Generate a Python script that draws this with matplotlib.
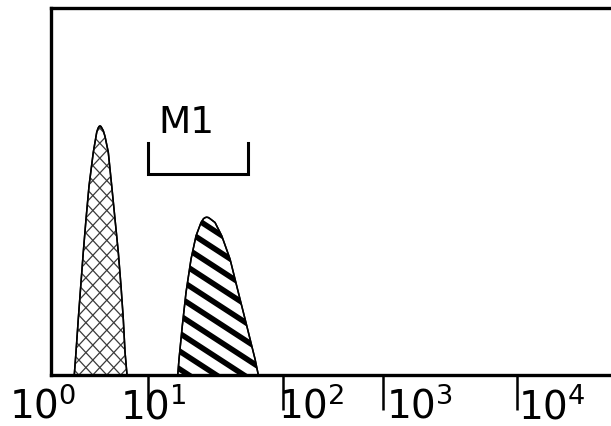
import numpy as np
import matplotlib
matplotlib.use('Agg')
import matplotlib.pyplot as plt
from matplotlib.collections import LineCollection

# channel (0-1024, log amplified) and event counts for each histogram outline
ctrl_chan = [41.9, 45.0, 49.1, 53.5, 58.1, 63.0, 68.4, 76.1, 82.3, 84.6, 86.4, 88.2,
             90.0, 91.8, 94.1, 97.2, 103.1, 109.3, 115.2, 121.1, 126.0, 130.1, 133.2, 136.8]
ctrl_count = [0, 12.6, 30.6, 48.6, 67.2, 85.2, 103.3, 121.8, 132.8, 134.9, 135.9, 136.2,
              135.9, 134.9, 133.6, 130.5, 121.8, 103.3, 85.2, 67.2, 48.6, 30.6, 12.6, 0]

stain_chan = [228.1, 230.4, 236.3, 243.0, 252.0, 261.0, 270.0, 274.5, 277.5, 280.3,
              283.3, 286.2, 295.2, 307.3, 322.2, 337.1, 352.3, 367.2, 373.1]
stain_count = [0, 8.7, 26.9, 45.2, 63.4, 76.1, 83.4, 85.5, 86.1, 86.3,
               86.1, 85.5, 83.4, 76.1, 63.4, 45.2, 26.9, 8.7, 0]

# decade ticks and where their labels sit
tick_chan = [175, 418, 598, 839]
label_chan = [-76, 125, 408, 602, 841]
tick_labels = [r'$10^{0}$', r'$10^{1}$', r'$10^{2}$', r'$10^{3}$', r'$10^{4}$']

# M1 gate
m1_chan = [175, 355]
m1_count = [110, 127]
m1_text_pos = (193, 132.8)

FIG_W, FIG_H, DPI = 6.11, 4.27, 100
AX_POS = [51 / 611, 51 / 427, 569 / 611, 367.5 / 427]


def add_hatch(ax, patch, angle, spacing, lw, color):
    """Draw parallel lines (angle in degrees, spacing in pixels) clipped to patch."""
    w_px = AX_POS[2] * FIG_W * DPI
    h_px = AX_POS[3] * FIG_H * DPI
    t = np.radians(angle)
    d = np.array([np.cos(t), np.sin(t)])
    n = np.array([-np.sin(t), np.cos(t)])
    big = 2000
    segs = []
    for k in range(-int(big / spacing), int(big / spacing) + 1):
        c = n * k * spacing
        p0 = c - d * big
        p1 = c + d * big
        segs.append([(p0[0] / w_px, p0[1] / h_px), (p1[0] / w_px, p1[1] / h_px)])
    lc = LineCollection(segs, colors=color, linewidths=lw, transform=ax.transAxes)
    ax.add_collection(lc)
    lc.set_clip_path(patch)


plt.rcParams['font.family'] = 'DejaVu Sans'
plt.rcParams['mathtext.fontset'] = 'dejavusans'

fig = plt.figure(figsize=(FIG_W, FIG_H), dpi=DPI)
ax = fig.add_axes(AX_POS)

# control peak: cross hatched
ctrl = ax.fill(ctrl_chan, ctrl_count, facecolor='white', edgecolor='black', lw=1.1, zorder=2)[0]
add_hatch(ax, ctrl, 47, 10.2, 0.9, '#3a3a3a')
add_hatch(ax, ctrl, -47, 10.2, 0.9, '#3a3a3a')
ax.fill(ctrl_chan, ctrl_count, facecolor='none', edgecolor='black', lw=1.1, zorder=3)

# stained peak: bold diagonal stripes
stain = ax.fill(stain_chan, stain_count, facecolor='white', edgecolor='black', lw=1.1, zorder=2)[0]
add_hatch(ax, stain, -33, 15.0, 4.0, 'black')
ax.fill(stain_chan, stain_count, facecolor='none', edgecolor='black', lw=1.1, zorder=3)

# M1 marker bracket
ax.plot([m1_chan[0], m1_chan[0], m1_chan[1], m1_chan[1]],
        [m1_count[1], m1_count[0], m1_count[0], m1_count[1]],
        color='black', lw=2.2, solid_joinstyle='miter')
ax.text(m1_text_pos[0], m1_text_pos[1], 'M1', fontsize=27, ha='left', va='baseline')

ax.set_xlim(0, 1024)
ax.set_ylim(0, 201)

for side in ['left', 'top', 'bottom']:
    ax.spines[side].set_linewidth(2.4)
ax.spines['right'].set_visible(False)

ax.set_yticks([])
ax.set_xticks(tick_chan)
ax.set_xticklabels([])
ax.tick_params(axis='x', direction='out', length=25, width=1.8, color='black')

for x, lab in zip(label_chan, tick_labels):
    ax.text(x, -0.115, lab, transform=ax.get_xaxis_transform(), fontsize=28,
            ha='left', va='baseline', clip_on=False)

fig.savefig('out.png', dpi=DPI)
